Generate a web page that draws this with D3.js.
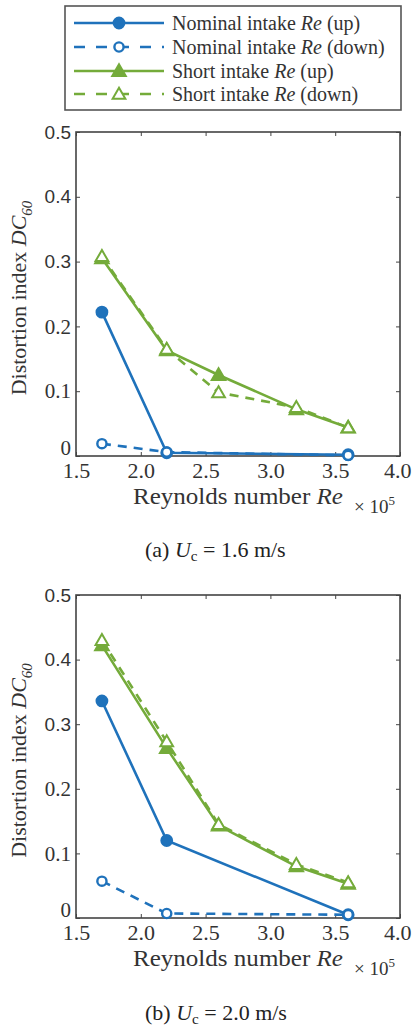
<!DOCTYPE html>
<html>
<head>
<meta charset="utf-8">
<script src="https://cdn.jsdelivr.net/npm/d3@7"></script>
<style>
  html, body { margin: 0; padding: 0; background: #fff; }
  svg { display: block; }
</style>
</head>
<body>
<svg id="chart" width="412" height="1027"></svg>
<script>
// ---------------- data ----------------
const reNominal = [1.7, 2.2, 3.6];
const reShort = [1.7, 2.2, 2.6, 3.2, 3.6];

// panel (a) Uc = 1.6 m/s
const a_nominalUp   = [0.222, 0.005, 0.002];
const a_nominalDown = [0.019, 0.006, 0.001];
const a_shortUp     = [0.305, 0.163, 0.125, 0.072, 0.044];
const a_shortDown   = [0.308, 0.165, 0.098, 0.075, 0.044];

// panel (b) Uc = 2.0 m/s
const b_nominalUp   = [0.336, 0.120, 0.005];
const b_nominalDown = [0.057, 0.007, 0.005];
const b_shortUp     = [0.422, 0.263, 0.143, 0.080, 0.053];
const b_shortDown   = [0.430, 0.273, 0.145, 0.083, 0.055];

const xTicks = [1.5, 2.0, 2.5, 3.0, 3.5, 4.0];
const xTickLabels = ["1.5", "2.0", "2.5", "3.0", "3.5", "4.0"];
const yTicks = [0, 0.1, 0.2, 0.3, 0.4, 0.5];
const yTickLabels = ["0", "0.1", "0.2", "0.3", "0.4", "0.5"];

const legendLabels = ["Nominal intake ", "Nominal intake ", "Short intake ", "Short intake "];
const legendSuffix = [" (up)", " (down)", " (up)", " (down)"];

// ---------------- style ----------------
const BLUE = "#1f72bb";
const GREEN = "#74ab3a";
const AXIS = "#444";
const SERIF = '"Liberation Serif", "Times New Roman", serif';
const SANS = '"Liberation Sans", Arial, sans-serif';

const svg = d3.select("#chart");

const seriesStyle = [
  {color: BLUE,  dash: null,  marker: "circle",   filled: true},
  {color: BLUE,  dash: "9,7", marker: "circle",   filled: false},
  {color: GREEN, dash: null,  marker: "triangle", filled: true},
  {color: GREEN, dash: "9,7", marker: "triangle", filled: false}
];

function drawMarker(g, st, cx, cy) {
  if (st.marker === "circle") {
    g.append("circle").attr("cx", cx).attr("cy", cy).attr("r", st.filled ? 5.2 : 4.6)
      .attr("fill", st.filled ? st.color : "#fff")
      .attr("stroke", st.color).attr("stroke-width", 2.4);
  } else {
    g.append("path").attr("d", d3.symbol(d3.symbolTriangle, st.filled ? 80 : 70)())
      .attr("transform", `translate(${cx},${cy + 1})`)
      .attr("fill", st.filled ? st.color : "#fff")
      .attr("stroke", st.color).attr("stroke-width", 2);
  }
}

function drawPanel(top, bottom, series, captionLetter, captionValue, captionY) {
  const left = 76, right = 400;
  const x = d3.scaleLinear().domain([1.5, 4.0]).range([left, right]);
  const y = d3.scaleLinear().domain([0, 0.5]).range([bottom, top]);
  const g = svg.append("g");

  // axes with inward ticks
  const ax = g.append("g").attr("transform", `translate(0,${bottom})`)
    .call(d3.axisBottom(x).tickValues(xTicks).tickFormat((d, i) => xTickLabels[i])
      .tickSizeInner(-4).tickSizeOuter(0).tickPadding(6));
  ax.select(".domain").remove();
  ax.selectAll("text").style("font-family", SERIF)
    .attr("font-size", 22).attr("fill", "#333")
    .attr("text-anchor", d => d === 4.0 ? "end" : "middle")
    .attr("dx", d => d === 4.0 ? 11 : 0);
  ax.selectAll("line").attr("stroke", AXIS);

  const axT = g.append("g").attr("transform", `translate(0,${top})`)
    .call(d3.axisTop(x).tickValues(xTicks).tickFormat("").tickSizeInner(-4).tickSizeOuter(0));
  axT.select(".domain").remove();
  axT.selectAll("line").attr("stroke", AXIS);

  const ay = g.append("g").attr("transform", `translate(${left},0)`)
    .call(d3.axisLeft(y).tickValues(yTicks).tickFormat((d, i) => yTickLabels[i])
      .tickSizeInner(-4).tickSizeOuter(0).tickPadding(5));
  ay.select(".domain").remove();
  ay.selectAll("text")
    .style("font-family", d => d >= 0.25 ? SANS : SERIF)
    .attr("font-size", d => d >= 0.25 ? 19 : 21)
    .attr("dy", d => d === 0 ? "-0.05em" : "0.32em")
    .attr("fill", "#333");
  ay.selectAll("line").attr("stroke", AXIS);

  const ayR = g.append("g").attr("transform", `translate(${right},0)`)
    .call(d3.axisRight(y).tickValues(yTicks).tickFormat("").tickSizeInner(-4).tickSizeOuter(0));
  ayR.select(".domain").remove();
  ayR.selectAll("line").attr("stroke", AXIS);

  g.append("rect").attr("x", left).attr("y", top).attr("width", right - left).attr("height", bottom - top)
    .attr("fill", "none").attr("stroke", AXIS).attr("stroke-width", 1.6);

  // series
  const line = d3.line().x(d => x(d[0])).y(d => y(d[1]));
  series.forEach((s, i) => {
    const st = seriesStyle[i];
    const pts = s.xs.map((v, j) => [v, s.ys[j]]);
    g.append("path").attr("d", line(pts)).attr("fill", "none")
      .attr("stroke", st.color).attr("stroke-width", 2.6)
      .attr("stroke-dasharray", st.dash);
    const mg = g.append("g");
    pts.forEach(p => drawMarker(mg, st, x(p[0]), y(p[1])));
  });

  // x title
  const xt = g.append("text").style("font-family", SERIF).attr("x", 133).attr("y", bottom + 48)
    .attr("textLength", 210).attr("lengthAdjust", "spacingAndGlyphs")
    .attr("font-size", 23).attr("fill", "#333");
  xt.append("tspan").text("Reynolds number ");
  xt.append("tspan").attr("font-style", "italic").text("Re");

  const xm = g.append("text").style("font-family", SERIF).attr("x", 354).attr("y", bottom + 57)
    .attr("font-size", 19).attr("fill", "#333");
  xm.append("tspan").text("\u00d7 10");
  xm.append("tspan").attr("font-size", 13).attr("dy", -8).text("5");

  // y title
  const yt = g.append("text").style("font-family", SERIF)
    .attr("transform", `translate(26,${(top + bottom) / 2 + 4}) rotate(-90)`)
    .attr("text-anchor", "middle").attr("font-size", 22).attr("fill", "#333");
  yt.append("tspan").text("Distortion index  ");
  yt.append("tspan").attr("font-style", "italic").text("DC");
  yt.append("tspan").attr("font-style", "italic").attr("font-size", 15).attr("dy", 6).text("60");

  // caption
  const cp = svg.append("text").style("font-family", SERIF).attr("x", 145).attr("y", captionY)
    .attr("font-size", 22).attr("fill", "#222");
  cp.append("tspan").text(`(${captionLetter}) `);
  cp.append("tspan").attr("font-style", "italic").text("U");
  cp.append("tspan").attr("font-size", 15).attr("dy", 4).text("c");
  cp.append("tspan").attr("dy", -4).text(` = ${captionValue} m/s`);
}

drawPanel(132, 456, [
  {xs: reNominal, ys: a_nominalUp},
  {xs: reNominal, ys: a_nominalDown},
  {xs: reShort, ys: a_shortUp},
  {xs: reShort, ys: a_shortDown}
], "a", "1.6", 557);

drawPanel(595, 918, [
  {xs: reNominal, ys: b_nominalUp},
  {xs: reNominal, ys: b_nominalDown},
  {xs: reShort, ys: b_shortUp},
  {xs: reShort, ys: b_shortDown}
], "b", "2.0", 1020);

// ---------------- legend ----------------
const lg = svg.append("g");
lg.append("rect").attr("x", 65).attr("y", 6).attr("width", 336).attr("height", 104)
  .attr("fill", "#fff").attr("stroke", "#555").attr("stroke-width", 1.6);
const rowY = [23, 47, 71, 94];
legendLabels.forEach((lab, i) => {
  const st = seriesStyle[i];
  lg.append("line").attr("x1", 74).attr("x2", 164).attr("y1", rowY[i]).attr("y2", rowY[i])
    .attr("stroke", st.color).attr("stroke-width", 2.6)
    .attr("stroke-dasharray", st.dash ? "11,11" : null);
  drawMarker(lg, st, 119, rowY[i]);
  const t = lg.append("text").style("font-family", SERIF).attr("x", 172).attr("y", rowY[i] + 7)
    .attr("font-size", 20).attr("fill", "#333");
  t.append("tspan").text(lab);
  t.append("tspan").attr("font-style", "italic").text("Re");
  t.append("tspan").text(legendSuffix[i]);
});
</script>
</body>
</html>
